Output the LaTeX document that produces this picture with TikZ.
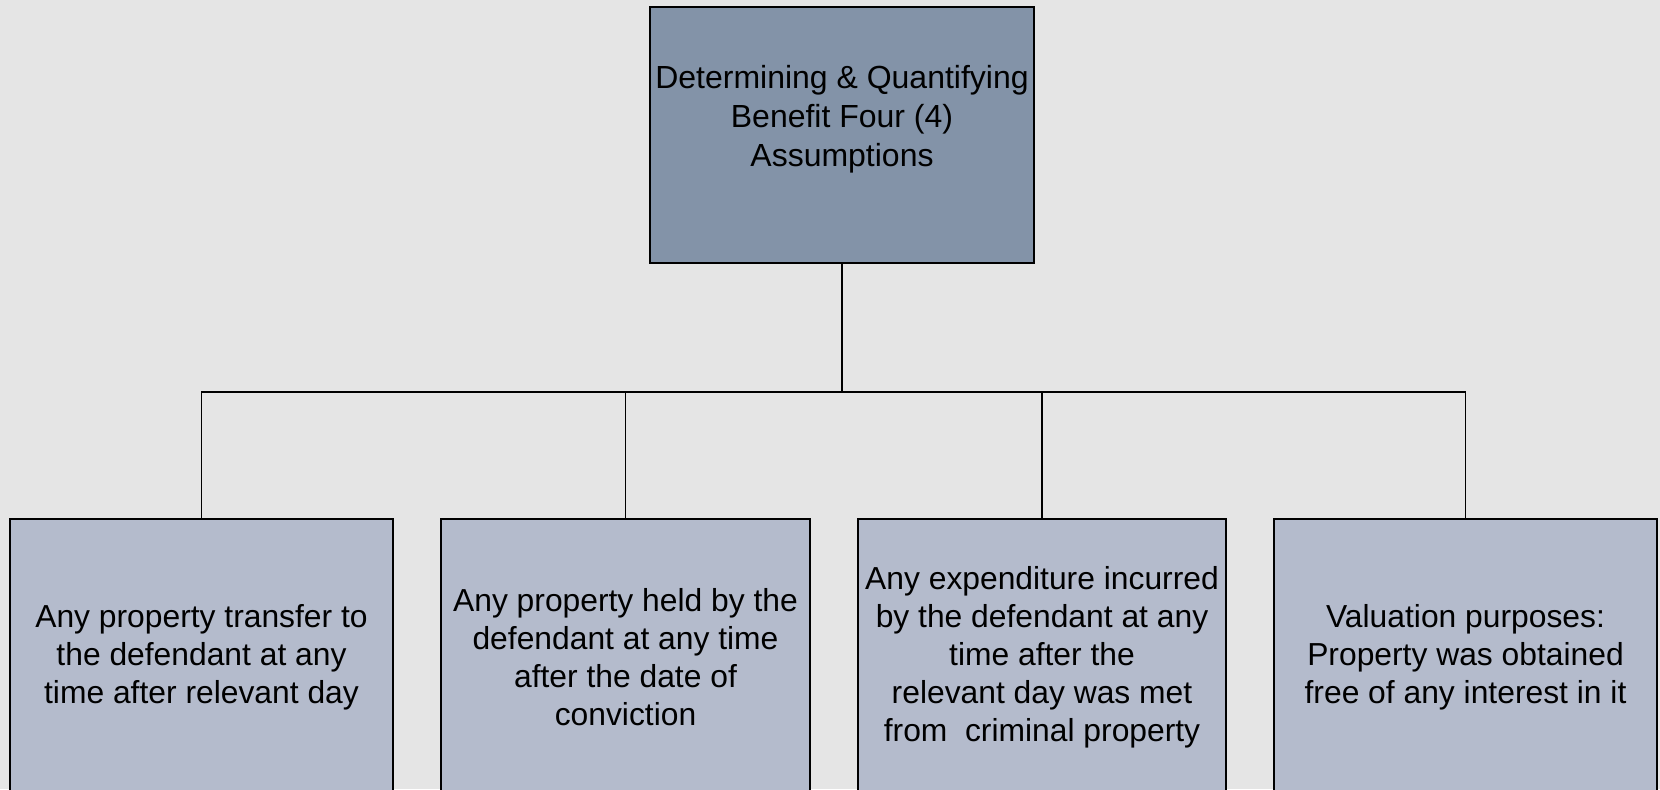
\documentclass[tikz,border=0pt]{standalone}
\usepackage{fontspec}
\setmainfont{Liberation Sans}
\usetikzlibrary{positioning,calc}

\definecolor{paper}{RGB}{229,229,229}
\definecolor{headfill}{RGB}{131,147,168}
\definecolor{leaffill}{RGB}{180,187,204}

\begin{document}
\begin{tikzpicture}[
    headbox/.style={draw=black, line width=1.1pt, fill=headfill, minimum width=7.68cm, minimum height=5.12cm, inner sep=0pt, align=center, font=\fontsize{18.2}{22.1}\selectfont},
    leafbox/.style={draw=black, line width=1.1pt, fill=leaffill, minimum height=5.52cm, inner sep=0pt, align=center, font=\fontsize{18.1}{21.6}\selectfont},
    link/.style={line width=1pt, black},
]

\def\W{33.2}  \def\H{15.78}

% Background
\fill[paper] (0,0) rectangle (\W,\H);
\useasboundingbox (0,0) rectangle (\W,\H);

% Head box
\node[headbox] (head) at (16.84, 13.08) {Determining \& Quantifying\\Benefit Four (4)\\Assumptions\\~};

% Four assumptions
\node[leafbox, minimum width=7.66cm] (leafA) at (4.03, 2.64) {Any property transfer to\\the defendant at any\\time after relevant day};
\node[leafbox, minimum width=7.38cm] (leafB) at (12.51, 2.64) {Any property held by the\\defendant at any time\\after the date of\\conviction};
\node[leafbox, minimum width=7.36cm] (leafC) at (20.84, 2.64) {Any expenditure incurred\\by the defendant at any\\time after the\\relevant day was met\\from~~criminal property};
\node[leafbox, minimum width=7.66cm] (leafD) at (29.31, 2.64) {Valuation purposes:\\Property was obtained\\free of any interest in it};

% Tree connectors
\coordinate (hub) at ($(head.south)+(0,-2.56)$);
\foreach \leaf in {leafA,leafB,leafC,leafD} {
    \draw[link] (head.south) -- (hub) -| (\leaf.north);
}

\end{tikzpicture}
\end{document}
